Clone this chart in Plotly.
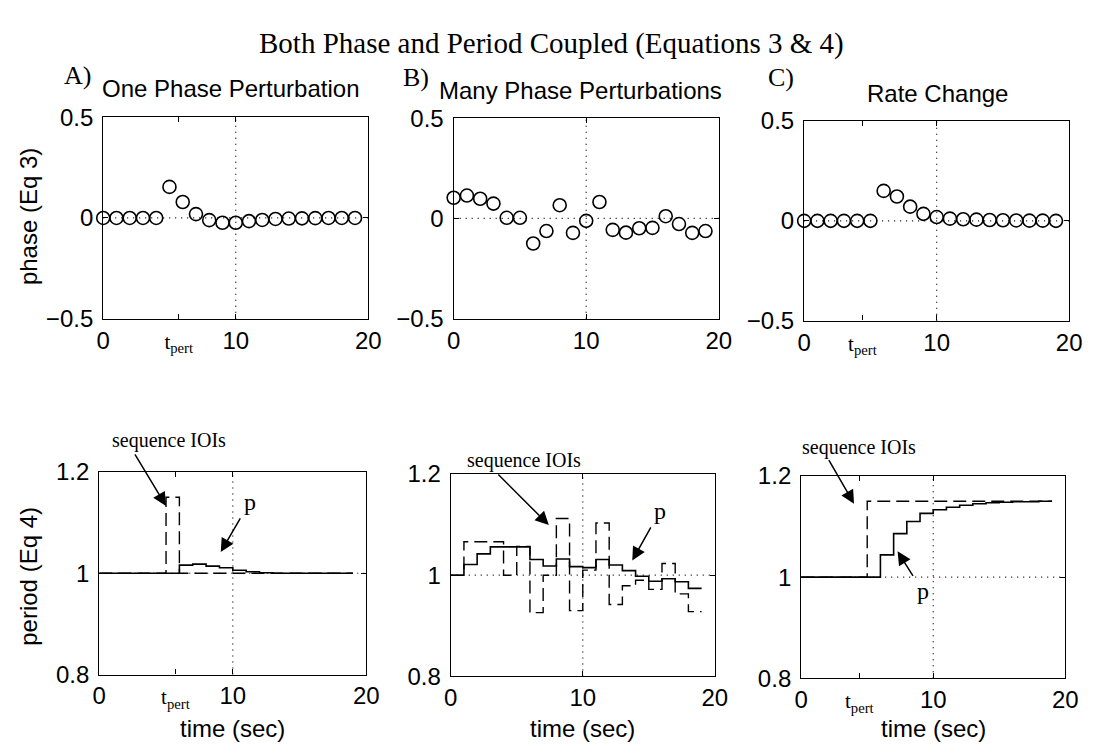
import plotly.graph_objects as go

# ---------------- data ----------------
event_t = list(range(20))                      # event index / time (sec)
phase_A = [0, 0, 0, 0, 0, 0.154, 0.079, 0.019, -0.011, -0.024, -0.024, -0.016,
           -0.010, -0.005, -0.003, -0.002, -0.001, 0, 0, 0]
phase_B = [0.103, 0.114, 0.098, 0.074, 0.003, 0.003, -0.125, -0.063, 0.066, -0.072,
           -0.012, 0.082, -0.057, -0.071, -0.049, -0.047, 0.011, -0.028, -0.072, -0.063]
phase_C = [0, 0, 0, 0, 0, 0, 0.150, 0.122, 0.071, 0.035, 0.019, 0.011, 0.008,
           0.006, 0.004, 0.003, 0.002, 0.001, 0.001, 0]

interval_t = list(range(20))                   # interval start times (last = end)
ioi_A = [1, 1, 1, 1, 1, 1.15, 1, 1, 1, 1, 1, 1, 1, 1, 1, 1, 1, 1, 1]
p_A = [1, 1, 1, 1, 1, 1, 1.016, 1.018, 1.014, 1.011, 1.006, 1.003, 1.001,
       1.0, 1.0, 1.0, 1.0, 1.0, 1.0]
ioi_B = [1.0, 1.066, 1.066, 1.066, 1.0, 1.057, 0.926, 1.0, 1.112, 0.930,
         1.010, 1.103, 0.942, 0.979, 0.990, 0.972, 1.023, 0.963, 0.928]
p_B = [1.0, 1.021, 1.042, 1.056, 1.056, 1.056, 1.031, 1.018, 1.032, 1.017,
       1.015, 1.031, 1.020, 1.009, 0.998, 0.988, 0.993, 0.987, 0.974]
ioi_C = [1, 1, 1, 1, 1, 1.15, 1.15, 1.15, 1.15, 1.15, 1.15, 1.15, 1.15, 1.15,
         1.15, 1.15, 1.15, 1.15, 1.15]
p_C = [1, 1, 1, 1, 1, 1, 1.044, 1.086, 1.110, 1.126, 1.133, 1.138, 1.142,
       1.145, 1.147, 1.148, 1.149, 1.149, 1.150]

t_pert_A = 5.7
t_pert_C = 4.4
phase_ticks = [-0.5, 0, 0.5]
phase_ticktext = ["\u22120.5", "0", "0.5"]
period_ticks = [0.8, 1, 1.2]
period_ticktext = ["0.8", "1", "1.2"]
time_ticks = [0, 10, 20]
grid_t = 10
grid_phase = 0
grid_period = 1

main_title = "Both Phase and Period Coupled (Equations 3 &amp; 4)"
panel_titles = ["One Phase Perturbation", "Many Phase Perturbations", "Rate Change"]
panel_letters = ["A)", "B)", "C)"]

# ---------------- layout helpers ----------------
W, H = 1093, 755
SANS = "Liberation Sans, Arial, Helvetica, sans-serif"
SERIF = "Liberation Serif, Times New Roman, serif"
TPERT = "<span style=\"font-family:Liberation Serif;font-size:21px\">t<sub>pert</sub></span>"


def xdom(l, r):
    return [l / W, r / W]


def ydom(top, bottom):
    return [(H - bottom) / H, (H - top) / H]


def px(x):
    return x / W


def py(y):
    return (H - y) / H


boxes = {  # left, right, top, bottom in pixels
    1: (98, 368, 107, 316),
    2: (455, 725, 108, 316),
    3: (812, 1082, 111, 318),
    4: (94, 366, 475, 685),
    5: (452, 721, 477, 687),
    6: (809, 1078, 479, 689),
}

fig = go.Figure()


def step_y(vals):
    return vals + [vals[-1]]


def add_phase(i, vals):
    fig.add_trace(go.Scatter(
        x=event_t, y=vals, mode="markers", xaxis=f"x{i}", yaxis=f"y{i}",
        marker=dict(symbol="circle-open", size=13, color="black",
                    line=dict(width=1.6, color="black")),
        cliponaxis=False, showlegend=False, hoverinfo="skip"))


def add_period(i, ioi, p):
    fig.add_trace(go.Scatter(
        x=interval_t, y=step_y(ioi), mode="lines", line_shape="hv",
        xaxis=f"x{i}", yaxis=f"y{i}",
        line=dict(color="black", width=1.4, dash="13px,6px"),
        showlegend=False, hoverinfo="skip"))
    fig.add_trace(go.Scatter(
        x=interval_t, y=step_y(p), mode="lines", line_shape="hv",
        xaxis=f"x{i}", yaxis=f"y{i}",
        line=dict(color="black", width=1.6),
        showlegend=False, hoverinfo="skip"))


add_phase(1, phase_A)
add_phase(2, phase_B)
add_phase(3, phase_C)
add_period(4, ioi_A, p_A)
add_period(5, ioi_B, p_B)
add_period(6, ioi_C, p_C)

axis_common = dict(showline=True, linecolor="black", linewidth=1.3, mirror="ticks",
                   ticks="inside", ticklen=5, tickwidth=1.2, tickcolor="black",
                   showgrid=False, zeroline=False,
                   tickfont=dict(family=SANS, size=24, color="black"))

layout = dict(width=W, height=H, margin=dict(l=0, r=0, t=0, b=0),
              paper_bgcolor="white", plot_bgcolor="white", showlegend=False)

shapes = []
for i in range(1, 7):
    l, r, t, b = boxes[i]
    xname = "xaxis" if i == 1 else f"xaxis{i}"
    yname = "yaxis" if i == 1 else f"yaxis{i}"
    xref = "x" if i == 1 else f"x{i}"
    yref = "y" if i == 1 else f"y{i}"
    tpert = t_pert_A if i in (1, 4) else (t_pert_C if i in (3, 6) else None)
    if tpert is None:
        tv, tt = time_ticks, [str(v) for v in time_ticks]
    else:
        tv = [0, tpert, 10, 20]
        tt = ["0", TPERT, "10", "20"]
    layout[xname] = dict(axis_common, domain=xdom(l, r), range=[0, 20],
                         tickvals=tv, ticktext=tt, anchor=yref)
    if i <= 3:
        yt, ytt, yr, gy = phase_ticks, phase_ticktext, [-0.5, 0.5], grid_phase
    else:
        yt, ytt, yr, gy = period_ticks, period_ticktext, [0.8, 1.2], grid_period
    layout[yname] = dict(axis_common, domain=ydom(t, b), range=yr,
                         tickvals=yt, ticktext=ytt, anchor=xref,
                         ticklabelstandoff=4)
    shapes.append(dict(type="line", xref=xref, yref=f"{yref} domain",
                       x0=grid_t, x1=grid_t, y0=0, y1=1,
                       line=dict(color="black", width=1.2, dash="1px,5px"), layer="below"))
    shapes.append(dict(type="line", xref=f"{xref} domain", yref=yref,
                       x0=0, x1=1, y0=gy, y1=gy,
                       line=dict(color="black", width=1.2, dash="1px,5px"), layer="below"))
layout["shapes"] = shapes

ann = []
# main title
ann.append(dict(text=main_title, xref="paper", yref="paper", x=px(555), y=py(31),
                showarrow=False, font=dict(family=SERIF, size=29, color="black"),
                xanchor="center", yanchor="middle"))
# panel letters
for txt, (cx, cy) in zip(panel_letters, [(72, 64), (417, 66), (788, 66)]):
    ann.append(dict(text=txt, xref="paper", yref="paper", x=px(cx), y=py(cy),
                    showarrow=False, font=dict(family=SERIF, size=26, color="black"),
                    xanchor="center", yanchor="middle"))
# panel subtitles
for txt, (tx, ty, anc) in zip(panel_titles, [(95, 77, "left"), (438, 79, "left"), (948, 82, "center")]):
    ann.append(dict(text=txt, xref="paper", yref="paper", x=px(tx), y=py(ty),
                    showarrow=False, font=dict(family=SANS, size=24, color="black"),
                    xanchor=anc, yanchor="middle"))
# y-axis titles
ann.append(dict(text="phase (Eq 3)", xref="paper", yref="paper", x=px(22), y=py(210),
                textangle=-90, showarrow=False, font=dict(family=SANS, size=24, color="black"),
                xanchor="center", yanchor="middle"))
ann.append(dict(text="period (Eq 4)", xref="paper", yref="paper", x=px(22), y=py(583),
                textangle=-90, showarrow=False, font=dict(family=SANS, size=24, color="black"),
                xanchor="center", yanchor="middle"))
# x-axis titles
for i in (4, 5, 6):
    ann.append(dict(text="time (sec)", xref=f"x{i}", yref="paper", x=grid_t, y=py(741),
                    showarrow=False, font=dict(family=SANS, size=24, color="black"),
                    xanchor="center", yanchor="middle"))

# "sequence IOIs" arrows (tip in data coords, tail offset in px)
ioi_arrows = [(4, 5.0, 1.133, -32, -53), (5, 7.43, 1.099, -52, -52), (6, 4.0, 1.145, -26, -45)]
for ax_i, tx, ty, dx, dy in ioi_arrows:
    ann.append(dict(text="", xref=f"x{ax_i}", yref=f"y{ax_i}", x=tx, y=ty, ax=dx, ay=dy,
                    showarrow=True, arrowhead=2, arrowsize=1.8, arrowwidth=1.5,
                    arrowcolor="black", standoff=0, startstandoff=0))
# "sequence IOIs" labels (above plot area -> paper coords)
for cx, cy in [(165, 442), (527, 463), (868, 450)]:
    ann.append(dict(text="sequence IOIs", xref="paper", yref="paper", x=px(cx), y=py(cy),
                    showarrow=False, font=dict(family=SERIF, size=20, color="black"),
                    xanchor="center", yanchor="middle"))
# "p" labels with arrows (tip in data coords, label offset in px)
p_arrows = [(4, 9.1, 1.042, 29, -50), (5, 13.75, 1.029, 28, -50), (6, 7.3, 1.051, 25, 40)]
for ax_i, tx, ty, dx, dy in p_arrows:
    ann.append(dict(text="p", xref=f"x{ax_i}", yref=f"y{ax_i}", x=tx, y=ty, ax=dx, ay=dy,
                    showarrow=True, arrowhead=2, arrowsize=1.8, arrowwidth=1.5,
                    arrowcolor="black", standoff=0, startstandoff=4,
                    font=dict(family=SERIF, size=24, color="black")))
layout["annotations"] = ann

fig.update_layout(**layout)
fig.write_html("out.html", post_script="document.body.style.margin='0px';")
